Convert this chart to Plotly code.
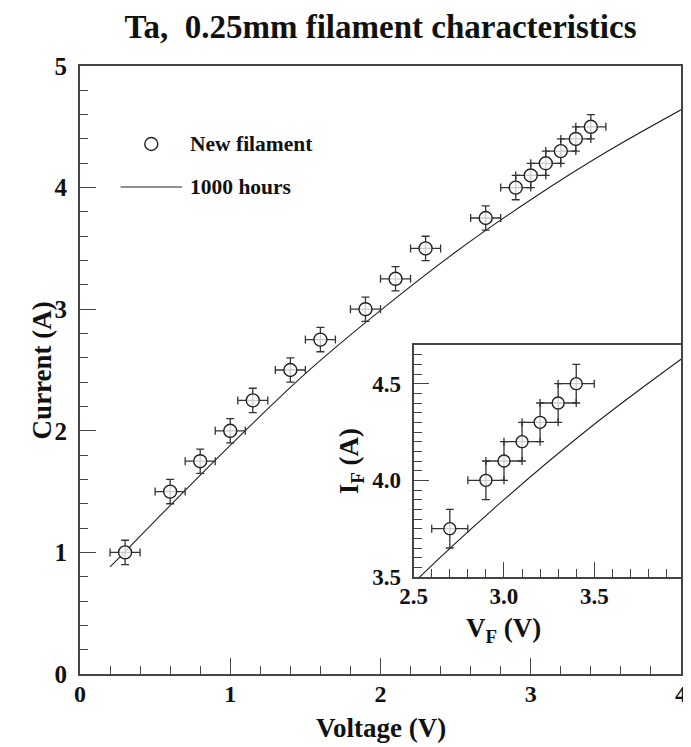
import plotly.graph_objects as go

# ---- data ----
volt_new = [0.3, 0.6, 0.8, 1.0, 1.15, 1.4, 1.6, 1.9, 2.1, 2.3, 2.7, 2.9, 3.0, 3.1, 3.2, 3.3, 3.4]
curr_new = [1.0, 1.5, 1.75, 2.0, 2.25, 2.5, 2.75, 3.0, 3.25, 3.5, 3.75, 4.0, 4.1, 4.2, 4.3, 4.4, 4.5]
err_v = [0.1] * len(volt_new)
err_i = [0.1] * len(volt_new)

volt_1000 = [0.2, 0.5, 1.0, 1.5, 2.0, 2.5, 3.0, 3.5, 4.0]
curr_1000 = [0.88, 1.26, 1.88, 2.47, 2.99, 3.47, 3.90, 4.29, 4.64]

inset_volt = [2.7, 2.9, 3.0, 3.1, 3.2, 3.3, 3.4]
inset_curr = [3.75, 4.0, 4.1, 4.2, 4.3, 4.4, 4.5]
inset_err_v = [0.1] * len(inset_volt)
inset_err_i = [0.1] * len(inset_curr)

main_xticks = [0, 1, 2, 3, 4]
main_yticks = [0, 1, 2, 3, 4, 5]
inset_xticks = [2.5, 3.0, 3.5]
inset_yticks = [3.5, 4.0, 4.5]

FONT = "Liberation Serif"
AX = "#444444"
MK = "#222222"

# frame geometry (page has an 8px body margin)
W, H = 683, 739
PL, PR, PT, PB = 80, 687, 66, 674   # plot area in page pixels


def px(xp):
    return (xp - PL) / (PR - PL)


def py(yp):
    return (PB - yp) / (PB - PT)


fig = go.Figure()


def ebar(a):
    return dict(type="data", array=a, color="#333333", thickness=1.3, width=4)


# main plot
fig.add_trace(go.Scatter(x=volt_1000, y=curr_1000, mode="lines",
                         line=dict(color=MK, width=1.1, shape="spline"),
                         xaxis="x", yaxis="y", showlegend=False))
fig.add_trace(go.Scatter(x=volt_new, y=curr_new, mode="markers",
                         marker=dict(symbol="circle", size=13, color="rgba(255,255,255,0.75)",
                                     line=dict(color=MK, width=1.4)),
                         error_x=ebar(err_v), error_y=ebar(err_i),
                         xaxis="x", yaxis="y", showlegend=False))

# inset
fig.add_trace(go.Scatter(x=volt_1000, y=curr_1000, mode="lines",
                         line=dict(color=MK, width=1.1, shape="spline"),
                         xaxis="x2", yaxis="y2", showlegend=False))
fig.add_trace(go.Scatter(x=inset_volt, y=inset_curr, mode="markers",
                         marker=dict(symbol="circle", size=12, color="rgba(255,255,255,0.75)",
                                     line=dict(color=MK, width=1.4)),
                         error_x=ebar(inset_err_v), error_y=ebar(inset_err_i),
                         xaxis="x2", yaxis="y2", showlegend=False))

tickfont_x = dict(family=FONT, size=24, color="#111111", weight="bold")
tickfont_y = dict(family=FONT, size=25, color="#111111", weight="bold")
tickfont_inset = dict(family=FONT, size=23, color="#111111", weight="bold")

common = dict(showgrid=False, zeroline=False, showline=True, linecolor=AX, linewidth=2,
              mirror=True, ticks="inside", tickcolor=AX, tickwidth=1.2)

fig.update_layout(
    width=W, height=H,
    paper_bgcolor="white", plot_bgcolor="white",
    margin=dict(l=PL - 8, r=W - (PR - 8), t=PT - 8, b=H - (PB - 8)),
    title=dict(text="<b>Ta,  0.25mm filament characteristics</b>", x=0.5, xref="paper",
               y=1 - 18 / H, yref="container", yanchor="middle", xanchor="center",
               font=dict(family=FONT, size=33, color="#111111")),
    xaxis=dict(domain=[0, 1], range=[0, 4], tickvals=main_xticks, ticklen=16,
               minor=dict(dtick=0.2, ticklen=8, ticks="inside", tickcolor=AX),
               tickfont=tickfont_x, **common),
    yaxis=dict(domain=[0, 1], range=[0, 5], tickvals=main_yticks, ticklen=16,
               minor=dict(dtick=0.2, ticklen=8, ticks="inside", tickcolor=AX),
               tickfont=tickfont_y, ticklabelstandoff=6, **common),
    xaxis2=dict(domain=[px(417), 1], range=[2.5, 3.98], anchor="y2", tickvals=inset_xticks,
                tickformat=".1f", ticklen=15,
                minor=dict(dtick=0.1, tick0=2.5, ticklen=8, ticks="inside", tickcolor=AX),
                tickfont=tickfont_inset, **common),
    yaxis2=dict(domain=[py(577), py(345)], range=[3.5, 4.7], anchor="x2", tickvals=inset_yticks,
                tickformat=".1f", ticklen=15,
                minor=dict(dtick=0.05, tick0=3.5, ticklen=8, ticks="inside", tickcolor=AX),
                tickfont=tickfont_inset, ticklabelstandoff=6, **common),
    showlegend=False,
)

for ax in ("xaxis", "xaxis2"):
    try:
        fig.update_layout({ax: dict(ticklabelstandoff=-3)})
    except Exception:
        fig.update_layout({ax: dict(ticklabelstandoff=0)})

titlefont = dict(family=FONT, size=27, color="#111111")
annots = [
    dict(text="<b>Current (A)</b>", x=px(42), y=0.5, textangle=-90),
    dict(text="<b>Voltage (V)</b>", x=0.5, y=py(728)),
    dict(text="<b>I<sub>F</sub> (A)</b>", x=px(354), y=py(461), textangle=-90),
    dict(text="<b>V<sub>F</sub> (V)</b>", x=px(508), y=py(630)),
]
for a in annots:
    fig.add_annotation(xref="paper", yref="paper", showarrow=False, xanchor="center",
                       yanchor="middle", font=titlefont, **a)

# manual legend
legfont = dict(family=FONT, size=21.5, color="#111111")
cx, cy = px(152), py(144)
fig.add_shape(type="circle", xref="paper", yref="paper", xsizemode="pixel", ysizemode="pixel",
              xanchor=cx, yanchor=cy, x0=-6.5, x1=6.5, y0=-6.5, y1=6.5,
              line=dict(color=MK, width=1.4))
ly = py(187)
fig.add_shape(type="line", xref="paper", yref="paper", x0=px(121), x1=px(183),
              y0=ly, y1=ly, line=dict(color=MK, width=1.1))
fig.add_annotation(text="<b>New filament</b>", xref="paper", yref="paper", x=px(189), y=cy,
                   xanchor="left", yanchor="middle", showarrow=False, font=legfont)
fig.add_annotation(text="<b>1000 hours</b>", xref="paper", yref="paper", x=px(189), y=ly,
                   xanchor="left", yanchor="middle", showarrow=False, font=legfont)

fig.write_html("out.html")
